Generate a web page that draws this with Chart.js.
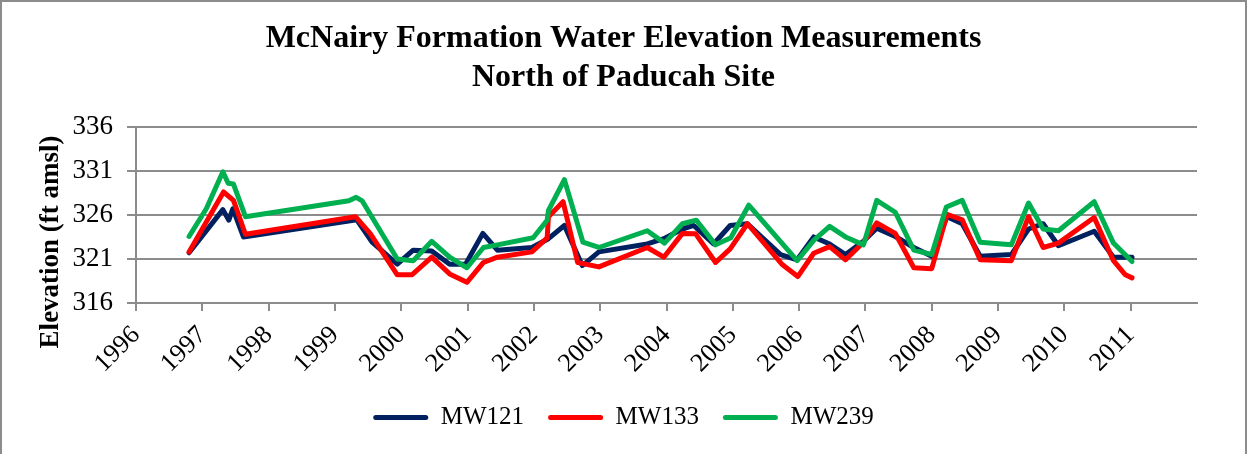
<!DOCTYPE html>
<html>
<head>
<meta charset="utf-8">
<script src="https://cdn.jsdelivr.net/npm/chart.js@4.4.1/dist/chart.umd.min.js"></script>
<style>
  html, body { margin: 0; padding: 0; background: #ffffff; }
  #wrap { width: 1247px; height: 454px; position: relative; }
</style>
</head>
<body>
<div id="wrap"><canvas id="c" width="1247" height="454"></canvas></div>
<script>
// ---- Data (decimal years, elevation ft amsl) ----
const mw121Years = [1996.80, 1997.31, 1997.40, 1997.46, 1997.62, 1999.33, 1999.56, 1999.94, 2000.18, 2000.46, 2000.73, 2000.97, 2001.23, 2001.45, 2001.97, 2002.22, 2002.46, 2002.73, 2002.98, 2003.71, 2003.96, 2004.24, 2004.41, 2004.71, 2004.96, 2005.22, 2005.72, 2005.97, 2006.22, 2006.46, 2006.70, 2006.97, 2007.17, 2007.45, 2007.73, 2008.00, 2008.23, 2008.46, 2008.73, 2009.20, 2009.46, 2009.68, 2009.91, 2010.45, 2010.74, 2011.02];
const mw121Elev  = [321.7, 326.6, 325.4, 326.7, 323.5, 325.45, 322.9, 320.4, 322.0, 321.9, 320.4, 320.4, 323.9, 322.0, 322.3, 323.3, 324.8, 320.25, 321.8, 322.7, 323.3, 324.4, 324.8, 322.7, 324.8, 325.0, 321.5, 320.9, 323.5, 322.7, 321.5, 323.0, 324.5, 323.55, 322.3, 321.3, 325.8, 325.0, 321.3, 321.5, 324.4, 325.0, 322.5, 324.15, 321.2, 321.2];

const mw133Years = [1996.80, 1997.32, 1997.47, 1997.65, 1999.31, 1999.53, 1999.94, 2000.16, 2000.46, 2000.73, 2000.99, 2001.24, 2001.45, 2001.97, 2002.20, 2002.22, 2002.44, 2002.66, 2002.98, 2003.71, 2003.96, 2004.24, 2004.44, 2004.74, 2004.96, 2005.22, 2005.74, 2005.98, 2006.22, 2006.46, 2006.70, 2006.97, 2007.17, 2007.45, 2007.73, 2008.00, 2008.23, 2008.46, 2008.73, 2009.20, 2009.46, 2009.68, 2009.91, 2010.45, 2010.74, 2010.92, 2011.02];
const mw133Elev  = [321.8, 328.6, 327.65, 323.8, 325.8, 323.9, 319.2, 319.2, 321.2, 319.3, 318.35, 320.6, 321.2, 321.8, 323.4, 325.8, 327.5, 320.6, 320.1, 322.3, 321.2, 323.9, 323.85, 320.6, 322.15, 325.0, 320.4, 319.0, 321.65, 322.4, 320.9, 322.9, 325.1, 323.9, 320.0, 319.9, 326.05, 325.45, 320.9, 320.8, 325.8, 322.3, 322.8, 325.7, 320.8, 319.2, 318.85];

const mw239Years = [1996.80, 1997.06, 1997.31, 1997.39, 1997.47, 1997.65, 1999.21, 1999.32, 1999.41, 1999.53, 1999.94, 2000.18, 2000.46, 2000.73, 2000.99, 2001.24, 2001.45, 2001.99, 2002.20, 2002.22, 2002.46, 2002.74, 2002.98, 2003.71, 2003.97, 2004.24, 2004.45, 2004.74, 2004.97, 2005.24, 2005.97, 2006.22, 2006.46, 2006.70, 2006.97, 2007.17, 2007.45, 2007.73, 2008.00, 2008.22, 2008.46, 2008.73, 2009.20, 2009.46, 2009.68, 2009.91, 2010.45, 2010.74, 2011.02];
const mw239Elev  = [323.55, 326.7, 330.9, 329.6, 329.5, 325.8, 327.6, 328.0, 327.6, 326.1, 321.0, 320.8, 323.0, 321.2, 320.0, 322.3, 322.6, 323.4, 325.4, 326.5, 330.0, 322.9, 322.3, 324.2, 322.8, 325.0, 325.4, 322.6, 323.4, 327.1, 320.8, 323.1, 324.7, 323.5, 322.6, 327.65, 326.3, 322.0, 321.5, 326.9, 327.65, 322.9, 322.6, 327.35, 324.4, 324.2, 327.5, 322.8, 320.7];

const seriesNames = ['MW121', 'MW133', 'MW239'];
const seriesColors = ['#002060', '#FF0000', '#00B050'];
const titleLines = ['McNairy Formation Water Elevation Measurements', 'North of Paducah Site'];
const yAxisTitle = 'Elevation (ft amsl)';
const xMin = 1996, xMax = 2012, yMin = 316, yMax = 336, yStep = 5;

// ---- build ----
const toPts = (xs, ys) => xs.map((x, i) => ({ x: x, y: ys[i] }));
const allSeries = [toPts(mw121Years, mw121Elev), toPts(mw133Years, mw133Elev), toPts(mw239Years, mw239Elev)];

const FONT = '"Liberation Serif", "Times New Roman", Times, serif';
const GRID = '#8c8c8c';

const borderPlugin = {
  id: 'frame',
  beforeDraw(chart) {
    const ctx = chart.ctx;
    ctx.save();
    ctx.fillStyle = '#ffffff';
    ctx.fillRect(0, 0, chart.width, chart.height);
    ctx.restore();
  },
  afterDraw(chart) {
    const ctx = chart.ctx;
    ctx.save();
    ctx.strokeStyle = '#8c8c8c';
    ctx.lineWidth = 2;
    ctx.strokeRect(1, 1, chart.width - 2, chart.height + 10);
    ctx.restore();
  }
};

new Chart(document.getElementById('c'), {
  type: 'line',
  data: {
    datasets: allSeries.map((pts, i) => ({
      label: seriesNames[i],
      data: pts,
      borderColor: seriesColors[i],
      backgroundColor: seriesColors[i],
      borderWidth: 5,
      pointRadius: 0,
      pointHoverRadius: 0,
      tension: 0,
      borderJoinStyle: 'round',
      borderCapStyle: 'round',
      order: 3 - i
    }))
  },
  options: {
    responsive: false,
    devicePixelRatio: 1,
    animation: false,
    layout: { padding: { left: 0, right: 0, top: 0, bottom: 14 } },
    plugins: {
      tooltip: { enabled: false },
      title: {
        display: true,
        text: titleLines,
        color: '#000000',
        font: { family: FONT, size: 32, weight: 'bold', lineHeight: 1.2 },
        padding: { top: 20, bottom: 30 }
      },
      legend: {
        position: 'bottom',
        labels: {
          color: '#000000',
          font: { family: FONT, size: 25 },
          boxWidth: 55,
          boxHeight: 5,
          padding: 24,
          sort: (a, b) => a.datasetIndex - b.datasetIndex,
          generateLabels(chart) {
            return chart.data.datasets.map((ds, i) => ({
              text: ds.label,
              fillStyle: ds.borderColor,
              strokeStyle: ds.borderColor,
              lineWidth: 0,
              hidden: false,
              datasetIndex: i,
              borderRadius: 2.5
            }));
          },
          useBorderRadius: true
        }
      }
    },
    scales: {
      x: {
        type: 'linear',
        min: xMin,
        max: xMax,
        afterFit(scale) { scale.height = 78; },
        ticks: {
          stepSize: 1,
          autoSkip: false,
          minRotation: 45,
          maxRotation: 45,
          padding: 9,
          color: '#000000',
          font: { family: FONT, size: 26 },
          callback: (v) => (v === xMax ? '' : String(v))
        },
        grid: {
          drawOnChartArea: false,
          drawTicks: true,
          tickLength: 8,
          lineWidth: 2,
          color: (c) => (c.tick && c.tick.value === xMax ? 'rgba(0,0,0,0)' : GRID)
        },
        border: { display: true, color: GRID, width: 2 }
      },
      y: {
        type: 'linear',
        position: 'left',
        min: yMin,
        max: yMax,
        afterFit(scale) { scale.width = 136; },
        ticks: {
          stepSize: yStep,
          padding: 14,
          color: '#000000',
          font: { family: FONT, size: 27 },
          callback: (v) => String(v)
        },
        grid: {
          color: GRID,
          lineWidth: 2,
          tickLength: 9
        },
        border: { display: true, color: GRID, width: 2 },
        title: {
          display: true,
          text: yAxisTitle + '        ',
          color: '#000000',
          font: { family: FONT, size: 27, weight: 'bold', lineHeight: 1.2 },
          padding: { top: 35, bottom: 0 }
        }
      },
      yRight: {
        type: 'linear',
        position: 'right',
        display: true,
        min: yMin,
        max: yMax,
        afterFit(scale) { scale.width = 50; },
        ticks: { display: false },
        grid: { display: false, drawOnChartArea: false },
        border: { display: false }
      }
    }
  },
  plugins: [borderPlugin]
});
</script>
</body>
</html>
